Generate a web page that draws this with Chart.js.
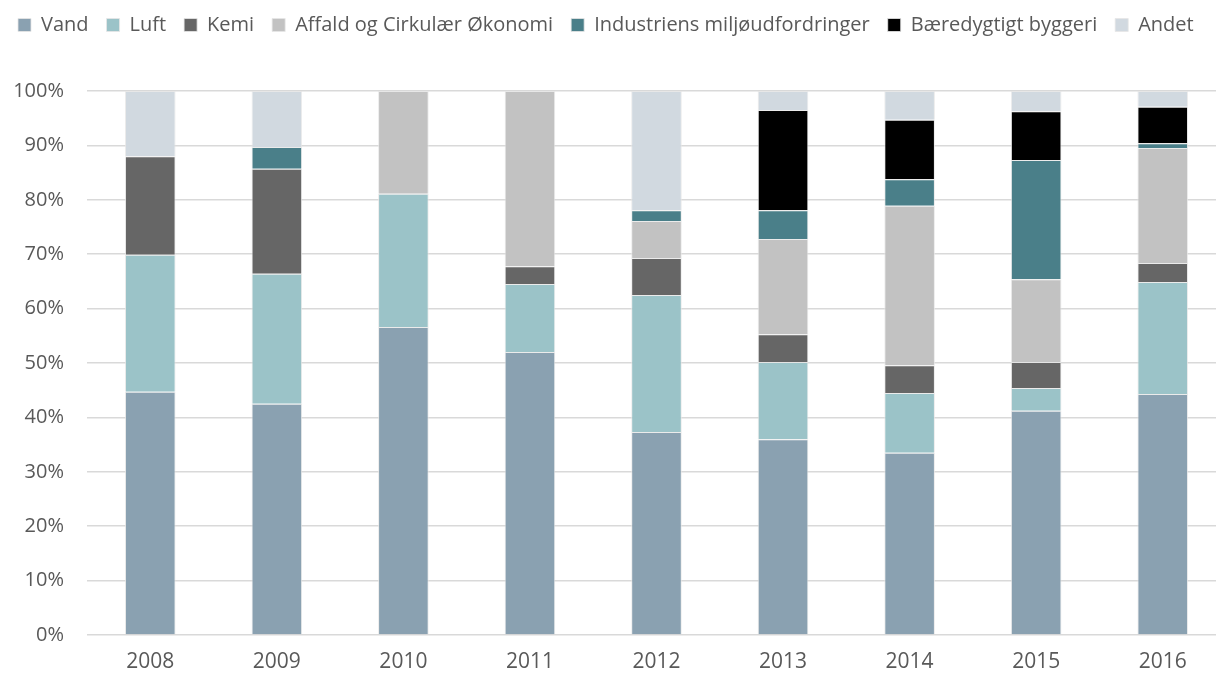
<!DOCTYPE html>
<html>
<head>
<meta charset="utf-8">
<script src="https://cdn.jsdelivr.net/npm/chart.js@4"></script>
<style>
    html, body { margin: 0; padding: 0; background: #fff; overflow: hidden; }
    #wrap { width: 1226px; height: 675px; }
</style>
</head>
<body>
<div id="wrap"><canvas id="bar-chart" width="1226" height="675"></canvas></div>
<script>
// Categories and series (percent of total per year)
const years = ['2008', '2009', '2010', '2011', '2012', '2013', '2014', '2015', '2016'];
const vand = [44.7, 42.5, 56.6, 52.0, 37.3, 36.0, 33.5, 41.2, 44.3];
const luft = [25.2, 23.9, 24.5, 12.5, 25.2, 14.2, 11.0, 4.2, 20.6];
const kemi = [18.1, 19.3, 0, 3.3, 6.8, 5.1, 5.1, 4.8, 3.5];
const affald = [0, 0, 18.9, 32.2, 6.8, 17.5, 29.3, 15.2, 21.1];
const industri = [0, 4.0, 0, 0, 2.0, 5.3, 4.9, 21.9, 0.9];
const byggeri = [0, 0, 0, 0, 0, 18.4, 10.9, 9.0, 6.7];
const andet = [12.0, 10.3, 0, 0, 21.9, 3.5, 5.3, 3.7, 2.9];
const yTicks = [0, 10, 20, 30, 40, 50, 60, 70, 80, 90, 100];

const textColor = '#595959';
const fontFamily = 'Open Sans';

function series(label, data, color) {
    return {
        label: label,
        data: data,
        backgroundColor: color,
        borderColor: 'rgba(230,230,230,0.8)',
        borderWidth: 1,
        barPercentage: 0.4,
        categoryPercentage: 1.0
    };
}

// push the plot area down below the legend
const legendMargin = {
    id: 'legendMargin',
    beforeInit(chart) {
        const fit = chart.legend.fit;
        chart.legend.fit = function () {
            fit.bind(chart.legend)();
            this.height += 46;
        };
    }
};

document.addEventListener("DOMContentLoaded", function () {
    const ctx = document.getElementById('bar-chart').getContext('2d');
    new Chart(ctx, {
        type: 'bar',
        data: {
            labels: years,
            datasets: [
                series('Vand', vand, '#8aa1b1'),
                series('Luft', luft, '#9bc3c8'),
                series('Kemi', kemi, '#666666'),
                series('Affald og Cirkulær Økonomi', affald, '#c2c2c2'),
                series('Industriens miljøudfordringer', industri, '#4a7f89'),
                series('Bæredygtigt byggeri', byggeri, '#000000'),
                series('Andet', andet, '#d1d9e0')
            ]
        },
        plugins: [legendMargin],
        options: {
            responsive: false,
            animation: false,
            layout: { padding: { left: 0, right: 0, top: -3, bottom: 0 } },
            plugins: {
                legend: {
                    display: true,
                    position: 'top',
                    align: 'start',
                    labels: {
                        color: textColor,
                        boxWidth: 13,
                        boxHeight: 13,
                        padding: 18,
                        font: { family: fontFamily, size: 20 }
                    }
                },
                tooltip: { enabled: false }
            },
            scales: {
                x: {
                    stacked: true,
                    grid: { display: false },
                    border: { display: false },
                    ticks: {
                        color: textColor,
                        padding: 6,
                        font: { family: fontFamily, size: 21 }
                    },
                    afterFit: function (scale) { scale.height = 40; }
                },
                y: {
                    stacked: true,
                    min: 0,
                    max: 100,
                    afterBuildTicks: function (scale) {
                        scale.ticks = yTicks.map(v => ({ value: v }));
                    },
                    grid: { color: '#d9d9d9', lineWidth: 1.5, drawTicks: false },
                    border: { display: false },
                    ticks: {
                        color: textColor,
                        padding: 23,
                        font: { family: fontFamily, size: 20 },
                        callback: v => v + '%'
                    },
                    afterFit: function (scale) { scale.width = 87; }
                }
            }
        }
    });
});
</script>
</body>
</html>
